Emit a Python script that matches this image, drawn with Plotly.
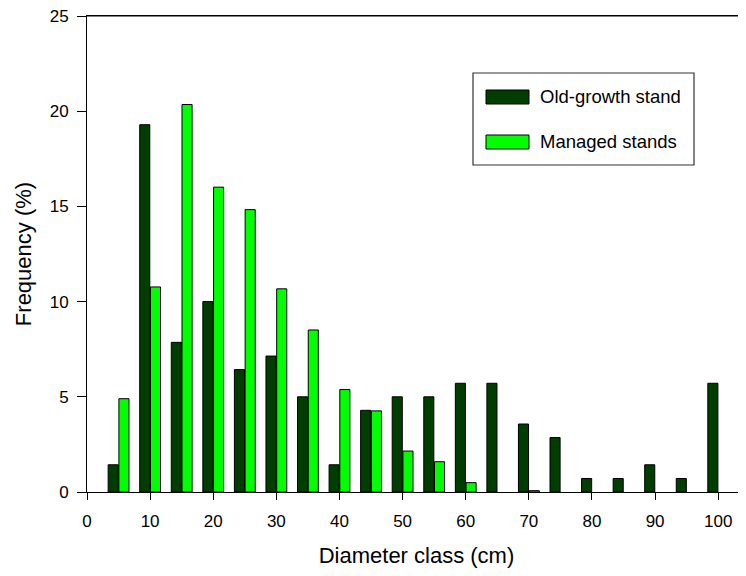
import plotly.graph_objects as go

diameter_classes = [5, 10, 15, 20, 25, 30, 35, 40, 45, 50, 55, 60, 65, 70, 75, 80, 85, 90, 95, 100]
old_growth = [1.43, 19.29, 7.86, 10.0, 6.43, 7.14, 5.0, 1.43, 4.29, 5.0, 5.0, 5.71, 5.71, 3.57, 2.86, 0.71, 0.71, 1.43, 0.71, 5.71]
managed = [4.90, 10.77, 20.35, 16.01, 14.83, 10.67, 8.51, 5.38, 4.26, 2.15, 1.59, 0.49, None, 0.07, None, None, None, None, None, None]
series_names = ["Old-growth stand", "Managed stands"]
series_colors = ["#003d00", "#00ff00"]

FONT = "Liberation Sans, Arial, sans-serif"
OFF = 8  # browser default body margin
W, H = 746 - OFF, 576 - 2 * OFF
# plot-area edges in page pixels
PL, PR, PT, PB = 87, 746, 16, 492
L, R, T, B = PL - OFF, PR - OFF, PT - OFF, PB - OFF

def xp(px):
    return (px - PL) / (PR - PL)

def yp(py):
    return (PB - py) / (PB - PT)

fig = go.Figure()
for name, vals, col in zip(series_names, [old_growth, managed], series_colors):
    fig.add_trace(go.Bar(
        x=diameter_classes, y=vals, name=name,
        marker=dict(color=col, line=dict(color="black", width=1)),
        showlegend=False,
    ))

fig.update_layout(
    width=W, height=H,
    margin=dict(l=L, r=W - R, t=T, b=H - B),
    plot_bgcolor="white", paper_bgcolor="white",
    barmode="group", bargap=0.32, bargroupgap=0.06,
    font=dict(family=FONT, size=17, color="black"),
    xaxis=dict(
        range=[0, 104.4], tick0=0, dtick=10, showgrid=False, zeroline=False,
        showline=True, linecolor="black", linewidth=1, mirror=True,
        ticks="outside", ticklen=7, tickwidth=1, tickcolor="black",
        tickfont=dict(size=17), automargin=False, ticklabelstandoff=7,
        ticklabeloverflow="allow",
        title=dict(text="Diameter class (cm)", font=dict(size=22), standoff=24),
    ),
    yaxis=dict(
        range=[0, 25], tick0=0, dtick=5, showgrid=False, zeroline=False,
        showline=True, linecolor="black", linewidth=1,
        ticks="outside", ticklen=9, tickwidth=1, tickcolor="black",
        tickfont=dict(size=17), automargin=False, ticklabelstandoff=5,
        ticklabeloverflow="allow",
        title=dict(text="Frequency (%)", font=dict(size=22), standoff=11),
    ),
)

shapes = [
    # top frame line
    dict(type="line", xref="paper", yref="paper", x0=0, x1=1, y0=1, y1=1,
         line=dict(color="black", width=1), layer="above"),
    # legend box
    dict(type="rect", xref="paper", yref="paper",
         x0=xp(473), x1=xp(694), y0=yp(165), y1=yp(73),
         line=dict(color="#333333", width=1.2), fillcolor="white", layer="above"),
]
rows = [97, 142]
for (name, col, cy) in zip(series_names, series_colors, rows):
    shapes.append(dict(type="rect", xref="paper", yref="paper",
                       x0=xp(486), x1=xp(529), y0=yp(cy + 7), y1=yp(cy - 7),
                       line=dict(color="black", width=1), fillcolor=col, layer="above"))
    fig.add_annotation(xref="paper", yref="paper", x=xp(538), y=yp(cy),
                       text=name, showarrow=False, xanchor="left", yanchor="middle",
                       font=dict(size=18.5, family=FONT, color="black"))
fig.update_layout(shapes=shapes)

fig.write_html("out.html")
